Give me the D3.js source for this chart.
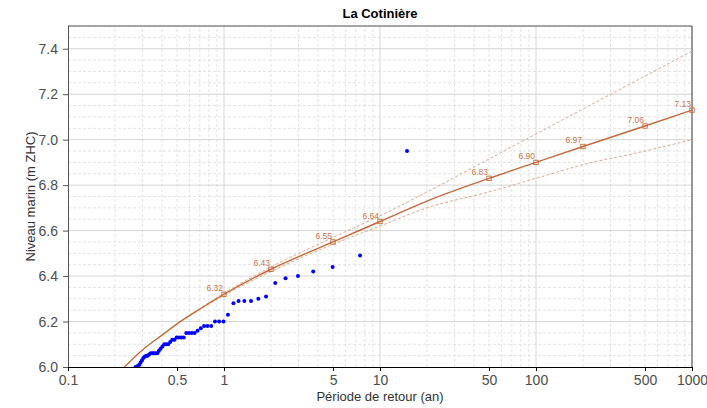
<!DOCTYPE html>
<html>
<head>
<meta charset="utf-8">
<script src="https://cdn.jsdelivr.net/npm/d3@7"></script>
<style>
  body { margin: 0; background: #fff; }
  svg { font-family: "Liberation Sans", Arial, sans-serif; }
</style>
</head>
<body>
<div class="chart"></div>
<script>
// return levels (fitted curve) with labelled markers
const markerPeriods = [1, 2, 5, 10, 50, 100, 200, 500, 1000];
const markerLevels = [6.32, 6.43, 6.55, 6.64, 6.83, 6.90, 6.97, 7.06, 7.13];

const curvePeriods = [0.23, 0.3, 0.4, 0.5, 0.7, 1, 2, 5, 10, 20, 50, 100, 200, 500, 1000];
const curveLevels = [6.0, 6.075, 6.14, 6.19, 6.255, 6.32, 6.43, 6.55, 6.64, 6.73, 6.83, 6.90, 6.97, 7.06, 7.13];

// confidence bounds
const boundPeriods = [0.5, 1, 2, 5, 10, 20, 50, 100, 200, 500, 1000];
const upperLevels = [6.19, 6.325, 6.44, 6.57, 6.665, 6.77, 6.915, 7.025, 7.135, 7.28, 7.39];
const lowerLevels = [6.19, 6.315, 6.42, 6.54, 6.62, 6.70, 6.77, 6.83, 6.89, 6.95, 7.00];

// observed maxima (empirical return period, level)
const obsPeriods = [14.9, 7.45, 4.97, 3.73, 2.98, 2.48, 2.13, 1.86, 1.66, 1.49,
  1.35, 1.24, 1.15, 1.06, 0.993, 0.931, 0.876, 0.828, 0.784, 0.745,
  0.710, 0.677, 0.648, 0.621, 0.596, 0.573, 0.552, 0.532, 0.514, 0.497,
  0.481, 0.466, 0.452, 0.438, 0.426, 0.414, 0.403, 0.392, 0.382, 0.373,
  0.363, 0.355, 0.347, 0.339, 0.331, 0.324, 0.317, 0.310, 0.304, 0.298,
  0.292, 0.287, 0.281, 0.276, 0.271];
const obsLevels = [6.95, 6.49, 6.44, 6.42, 6.40, 6.39, 6.37, 6.31, 6.30, 6.29,
  6.29, 6.29, 6.28, 6.23, 6.20, 6.20, 6.20, 6.18, 6.18, 6.18,
  6.17, 6.16, 6.15, 6.15, 6.15, 6.15, 6.13, 6.13, 6.13, 6.13,
  6.12, 6.12, 6.11, 6.10, 6.10, 6.10, 6.09, 6.08, 6.07, 6.06,
  6.06, 6.06, 6.06, 6.06, 6.055, 6.05, 6.05, 6.045, 6.04, 6.03,
  6.02, 6.01, 6.005, 6.0, 6.0];

const xTicks = [0.1, 0.5, 1, 5, 10, 50, 100, 500, 1000];
const yTicks = [6.0, 6.2, 6.4, 6.6, 6.8, 7.0, 7.2, 7.4];

const width = 707;
const height = 408;
const margin = {top: 26, right: 15, bottom: 41, left: 68};

const svg = d3.select('.chart')
  .append('svg')
  .attr('width', width)
  .attr('height', height)

const x = d3.scaleLog().domain([0.1, 1000]).range([margin.left, width - margin.right]);
const y = d3.scaleLinear().domain([6.0, 7.5]).range([height - margin.bottom, margin.top]);

const orange = "#c4693c";

// grid
let minorX = [];
[0.1, 1, 10, 100].forEach(function(d) {
  for (let k = 2; k <= 9; k++) minorX.push(d * k);
});
let minorY = d3.range(6.05, 7.5, 0.05).filter(function(v) {
  return Math.abs(Math.round(v * 5) - v * 5) > 0.01;
});

svg.append("g").selectAll("line")
  .data(minorX).enter().append("line")
  .attr("x1", d => x(d)).attr("x2", d => x(d))
  .attr("y1", y(6.0)).attr("y2", y(7.5))
  .attr("stroke", "#e3e3e3").attr("stroke-dasharray", "3,2");
svg.append("g").selectAll("line")
  .data(minorY).enter().append("line")
  .attr("x1", x(0.1)).attr("x2", x(1000))
  .attr("y1", d => y(d)).attr("y2", d => y(d))
  .attr("stroke", "#e3e3e3").attr("stroke-dasharray", "3,2");
svg.append("g").selectAll("line")
  .data([1, 10, 100]).enter().append("line")
  .attr("x1", d => x(d)).attr("x2", d => x(d))
  .attr("y1", y(6.0)).attr("y2", y(7.5))
  .attr("stroke", "#d6d6d6");
svg.append("g").selectAll("line")
  .data(yTicks.slice(1)).enter().append("line")
  .attr("x1", x(0.1)).attr("x2", x(1000))
  .attr("y1", d => y(d)).attr("y2", d => y(d))
  .attr("stroke", "#d6d6d6");

// border
svg.append("line").attr("x1", x(0.1)).attr("x2", x(1000)).attr("y1", y(7.5)).attr("y2", y(7.5)).attr("stroke", "#555");
svg.append("line").attr("x1", x(1000)).attr("x2", x(1000)).attr("y1", y(7.5)).attr("y2", y(6.0)).attr("stroke", "#333");

// clip
svg.append("clipPath").attr("id", "clip")
  .append("rect")
  .attr("x", margin.left).attr("y", margin.top)
  .attr("width", width - margin.left - margin.right)
  .attr("height", height - margin.top - margin.bottom);

const plot = svg.append("g").attr("clip-path", "url(#clip)");

const boundLine = function(levels) {
  return d3.line()
    .x((d, i) => x(boundPeriods[i]))
    .y((d, i) => y(levels[i]))
    .curve(d3.curveMonotoneX)(levels);
};
plot.append("path").attr("d", boundLine(upperLevels))
  .attr("fill", "none").attr("stroke", "#dcab8c").attr("stroke-width", 1).attr("stroke-dasharray", "3,2");
plot.append("path").attr("d", boundLine(lowerLevels))
  .attr("fill", "none").attr("stroke", "#dcab8c").attr("stroke-width", 1).attr("stroke-dasharray", "3,2");

plot.append("path")
  .attr("d", d3.line()
    .x((d, i) => x(curvePeriods[i]))
    .y((d, i) => y(curveLevels[i]))
    .curve(d3.curveMonotoneX)(curveLevels))
  .attr("fill", "none").attr("stroke", orange).attr("stroke-width", 1.4);

// observed points
plot.selectAll("circle")
  .data(obsLevels).enter().append("circle")
  .attr("cx", (d, i) => x(obsPeriods[i]))
  .attr("cy", d => y(d))
  .attr("r", 2)
  .attr("fill", "#0000ff");

// markers + labels
svg.append("g").selectAll("rect")
  .data(markerLevels).enter().append("rect")
  .attr("x", (d, i) => x(markerPeriods[i]) - 2.2)
  .attr("y", d => y(d) - 2.2)
  .attr("width", 4.4).attr("height", 4.4)
  .attr("fill", "none").attr("stroke", orange).attr("stroke-width", 0.9);
svg.append("g").selectAll("text")
  .data(markerLevels).enter().append("text")
  .attr("x", (d, i) => x(markerPeriods[i]) - 1)
  .attr("y", d => y(d) - 3)
  .attr("text-anchor", "end")
  .attr("font-size", 8.5)
  .attr("fill", "#c8754a")
  .text(d => d.toFixed(2));

// axes
const xAxis = svg.append("g")
  .attr("transform", "translate(0," + y(6.0) + ")")
  .call(d3.axisBottom(x).tickValues(xTicks).tickFormat(d3.format("")).tickSizeOuter(0).tickSize(4));
xAxis.select(".domain").attr("stroke", "#000");
xAxis.selectAll("text").attr("font-size", 14).attr("fill", "#4d4d4d").attr("dy", "0.8em")
  .attr("font-family", "Liberation Sans, Arial, sans-serif");

const yAxis = svg.append("g")
  .attr("transform", "translate(" + x(0.1) + ",0)")
  .call(d3.axisLeft(y).tickValues(yTicks).tickFormat(d3.format(".1f")).tickSizeOuter(0).tickSize(5).tickPadding(5));
yAxis.select(".domain").attr("stroke", "#555").attr("d", "M0.5," + y(7.5) + "V" + y(6.0));
yAxis.selectAll("text").attr("font-size", 14).attr("fill", "#4d4d4d")
  .attr("font-family", "Liberation Sans, Arial, sans-serif");
yAxis.selectAll(".tick line").attr("stroke", "#555");

// titles
svg.append("text")
  .attr("x", (x(0.1) + x(1000)) / 2).attr("y", 18)
  .attr("text-anchor", "middle").attr("font-size", 13).attr("font-weight", "bold")
  .text("La Cotinière");
svg.append("text")
  .attr("x", (x(0.1) + x(1000)) / 2).attr("y", 401)
  .attr("text-anchor", "middle").attr("font-size", 13).attr("fill", "#333")
  .text("Période de retour (an)");
svg.append("text")
  .attr("transform", "translate(35," + (y(6.0) + y(7.5)) / 2 + ") rotate(-90)")
  .attr("text-anchor", "middle").attr("font-size", 13).attr("fill", "#333")
  .text("Niveau marin (m ZHC)");
</script>
</body>
</html>
